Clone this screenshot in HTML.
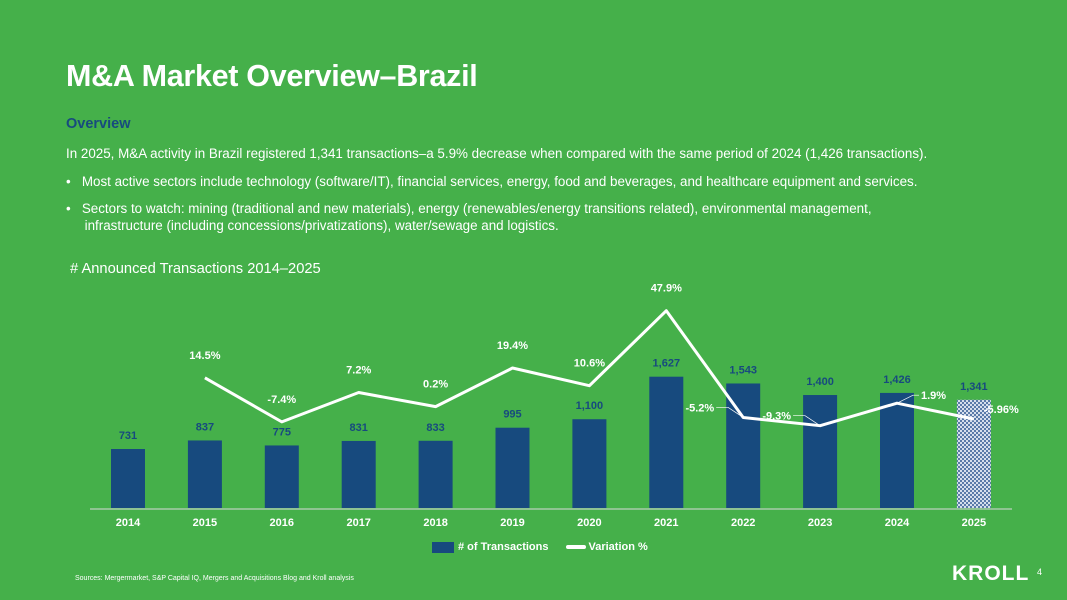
<!DOCTYPE html>
<html><head><meta charset="utf-8"><style>
body{margin:0;width:1067px;height:600px;background:#45B04A;font-family:"Liberation Sans",sans-serif;color:#fff;overflow:hidden;position:relative}
.a{position:absolute;margin:0}
</style></head><body>
<h1 class="a" style="left:66px;top:59px;font-size:30.5px;font-weight:bold;letter-spacing:-0.3px">M&amp;A Market Overview–Brazil</h1>
<div class="a" style="left:66px;top:116px;font-size:14.5px;font-weight:bold;color:#174A7E">Overview</div>
<div class="a" style="left:66px;top:146px;font-size:13.4px">In 2025, M&amp;A activity in Brazil registered 1,341 transactions–a 5.9% decrease when compared with the same period of 2024 (1,426 transactions).</div>
<div class="a" style="left:66px;top:174px;font-size:13.4px">•&nbsp;&nbsp; Most active sectors include technology (software/IT), financial services, energy, food and beverages, and healthcare equipment and services.</div>
<div class="a" style="left:66px;top:200px;font-size:13.4px;line-height:17px;width:900px">•&nbsp;&nbsp; Sectors to watch: mining (traditional and new materials), energy (renewables/energy transitions related), environmental management,<br>&nbsp;&nbsp;&nbsp;&nbsp; infrastructure (including concessions/privatizations), water/sewage and logistics.</div>
<div class="a" style="left:70px;top:261px;font-size:14.7px"># Announced Transactions 2014–2025</div>
<svg id="c" class="a" style="left:0;top:0" width="1067" height="600">
<defs><pattern id="hatch" width="4" height="4" patternUnits="userSpaceOnUse"><rect width="4" height="4" fill="#d6deec"/><rect width="2" height="2" fill="#5a7aa8"/><rect x="2" y="2" width="2" height="2" fill="#5a7aa8"/></pattern></defs>
</svg>
<div class="a" style="left:432px;top:541px;font-size:11px;font-weight:bold;display:flex;align-items:center">
<span style="width:22px;height:11px;background:#174A7E;display:inline-block;margin-right:4px"></span># of Transactions
<span style="width:20px;height:4px;border-radius:2px;background:#fff;display:inline-block;margin:0 2px 0 18px"></span>Variation %</div>
<div class="a" style="left:75px;top:575px;font-size:7px">Sources: Mergermarket, S&amp;P Capital IQ, Mergers and Acquisitions Blog and Kroll analysis</div>
<div class="a" style="left:952px;top:562px;font-size:21px;font-weight:bold;letter-spacing:1px">KROLL</div>
<div class="a" style="left:1037px;top:567px;font-size:9px">4</div>
<script>
const years=["2014","2015","2016","2017","2018","2019","2020","2021","2022","2023","2024","2025"];
const counts=[731,837,775,831,833,995,1100,1627,1543,1400,1426,1341];
const countLabels=["731","837","775","831","833","995","1,100","1,627","1,543","1,400","1,426","1,341"];
const variation=[null,14.5,-7.4,7.2,0.2,19.4,10.6,47.9,-5.2,-9.3,1.9,-5.96];
const varLabels=["","14.5%","-7.4%","7.2%","0.2%","19.4%","10.6%","47.9%","-5.2%","-9.3%","1.9%","-5.96%"];
const svg=document.getElementById('c');const NS="http://www.w3.org/2000/svg";
const base=508;
const x=i=>128+i*76.9;
const yB=v=>base-v*0.0807;
const yL=v=>407-v*2.01;
function mk(t,a){const e=document.createElementNS(NS,t);for(const k in a)e.setAttribute(k,a[k]);svg.appendChild(e);return e;}
counts.forEach((v,i)=>{
 const r=mk('rect',{x:x(i)-17,y:yB(v),width:34,height:base-yB(v),fill:i==11?'url(#hatch)':'#174A7E'});
 
 
 const t=mk('text',{x:x(i),y:yB(v)-10,'text-anchor':'middle','font-size':11,'font-weight':'bold',fill:'#174A7E'});t.textContent=countLabels[i];
 
 
 const yl=mk('text',{x:x(i),y:526,'text-anchor':'middle','font-size':11,'font-weight':'bold',fill:'#fff'});yl.textContent=years[i];
 
 
});
const ax=mk('line',{x1:90,x2:1012,y1:base+1,y2:base+1,stroke:'#d9d9d9','stroke-width':1});


let d='';variation.forEach((v,i)=>{if(v===null)return;d+=(d?'L':'M')+x(i)+','+yL(v);});
const p=mk('path',{d:d,fill:'none',stroke:'#fff','stroke-width':3,'stroke-linejoin':'round'});


variation.forEach((v,i)=>{if(v===null)return;
 let lx=x(i),ly=yL(v)-19,anc='middle';
 if(i==8||i==9){lx=x(i)-29;ly=yL(v)-6;anc='end';mk('path',{d:`M${lx+2},${ly-4}L${lx+14},${ly-4}L${x(i)},${yL(v)}`,fill:'none',stroke:'#fff','stroke-width':0.7});}
 if(i==10){lx=x(i)+24;ly=yL(v)-4;anc='start';mk('path',{d:`M${x(i)},${yL(v)}L${lx-8},${ly-4}L${lx-2},${ly-4}`,fill:'none',stroke:'#fff','stroke-width':0.7});}
 if(i==11){lx=x(i)+10;ly=yL(v)-6;anc='start';}
 const t=mk('text',{x:lx,y:ly,'text-anchor':anc,'font-size':11,'font-weight':'bold',fill:'#fff'});t.textContent=varLabels[i];
 
 
});
</script>
</body></html>
